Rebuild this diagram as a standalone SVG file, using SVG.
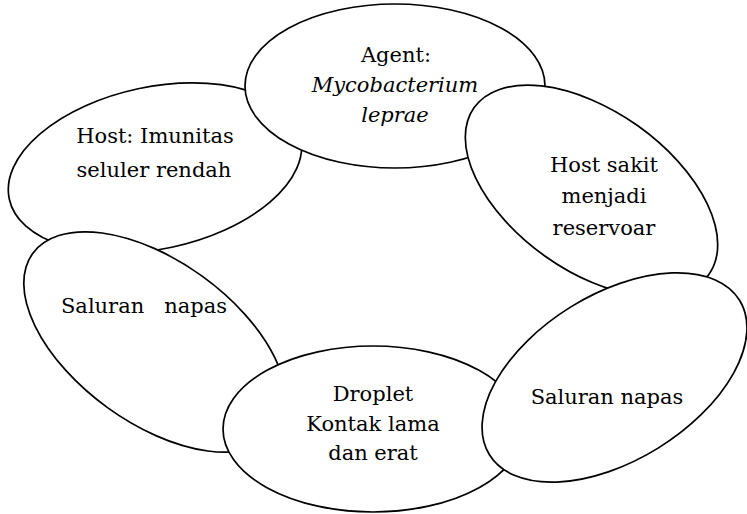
<svg xmlns="http://www.w3.org/2000/svg" width="747" height="514" viewBox="0 0 747 514">
<style>
.n{fill:#fff;stroke:#000;stroke-width:1.7}
text{font-family:"DejaVu Serif","Liberation Serif",serif;font-size:21px;fill:#000;text-anchor:middle;white-space:pre}
.i{font-style:italic}
</style>
<rect width="747" height="514" fill="#fff"/>
<g id="connectors"></g>
<g id="host-imunitas">
<ellipse class="n" cx="155" cy="168" rx="149" ry="81" transform="rotate(-12 155 168)"/>
<text x="155" y="143">Host: Imunitas</text>
<text x="154" y="177">seluler rendah</text>
</g>
<g id="agent">
<ellipse class="n" cx="395" cy="86" rx="150" ry="82"/>
<text x="396" y="62">Agent:</text>
<text class="i" x="395" y="92">Mycobacterium</text>
<text class="i" x="395" y="122">leprae</text>
</g>
<g id="host-sakit">
<ellipse class="n" cx="591.5" cy="191" rx="144" ry="80" transform="rotate(35.4 591.5 191)"/>
<text x="604" y="172">Host sakit</text>
<text x="604" y="203">menjadi</text>
<text x="604" y="235">reservoar</text>
</g>
<g id="saluran-kiri">
<ellipse class="n" cx="155" cy="342" rx="151" ry="81" transform="rotate(35.9 155 342)"/>
<text x="144" y="313">Saluran   napas</text>
</g>
<g id="droplet">
<ellipse class="n" cx="373" cy="429" rx="150" ry="83"/>
<text x="373" y="401">Droplet</text>
<text x="373" y="431">Kontak lama</text>
<text x="373" y="460">dan erat</text>
</g>
<g id="saluran-kanan">
<ellipse class="n" cx="614.5" cy="377.5" rx="147" ry="83" transform="rotate(-31.7 614.5 377.5)"/>
<text x="607" y="404">Saluran napas</text>
</g>
</svg>
